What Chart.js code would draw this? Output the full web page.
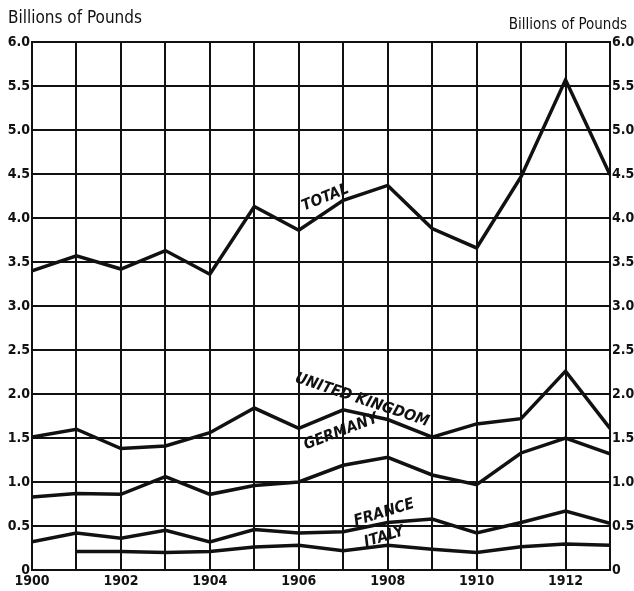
<!DOCTYPE html>
<html>
<head>
<meta charset="utf-8">
<script src="https://cdn.jsdelivr.net/npm/chart.js@4/dist/chart.umd.min.js"></script>
<style>
  html, body { margin: 0; padding: 0; background: #fff; }
  #wrap { width: 634px; height: 591px; position: relative; }
</style>
</head>
<body>
<div id="wrap"><canvas id="tradeChart"></canvas></div>
<script>
// Data (billions of pounds)
const years = [1900, 1901, 1902, 1903, 1904, 1905, 1906, 1907, 1908, 1909, 1910, 1911, 1912, 1913];
const total = [3.40, 3.57, 3.42, 3.63, 3.36, 4.13, 3.86, 4.20, 4.37, 3.88, 3.66, 4.47, 5.57, 4.49];
const unitedKingdom = [1.51, 1.60, 1.38, 1.41, 1.56, 1.84, 1.61, 1.82, 1.71, 1.51, 1.66, 1.72, 2.26, 1.61];
const germany = [0.83, 0.87, 0.86, 1.06, 0.86, 0.96, 1.00, 1.19, 1.28, 1.08, 0.97, 1.33, 1.50, 1.32];
const france = [0.32, 0.42, 0.36, 0.45, 0.32, 0.46, 0.42, 0.435, 0.54, 0.58, 0.42, 0.54, 0.67, 0.53];
const italy = [null, 0.21, 0.21, 0.20, 0.21, 0.26, 0.28, 0.22, 0.28, 0.235, 0.20, 0.265, 0.295, 0.28];
const seriesNames = ['TOTAL', 'UNITED KINGDOM', 'GERMANY', 'FRANCE', 'ITALY'];
const axisTitle = 'Billions of Pounds';

const FONT = "'DejaVu Sans Condensed', 'Liberation Sans Narrow', sans-serif";
const INK = '#111';

function toPoints(values) {
    return years.map((yr, i) => ({ x: yr, y: values[i] }));
}

// where each series name sits (in data units) and its tilt
const labelPlacement = [
    { year: 1906.6, value: 4.23, angle: -22 },
    { year: 1907.42, value: 1.93, angle: 18.5 },
    { year: 1906.95, value: 1.57, angle: -21 },
    { year: 1907.92, value: 0.65, angle: -17 },
    { year: 1907.92, value: 0.375, angle: -17 }
];

const seriesLabels = {
    id: 'seriesLabels',
    afterDatasetsDraw(chart) {
        const ctx = chart.ctx;
        const xs = chart.scales.x, ys = chart.scales.y;
        ctx.save();
        ctx.fillStyle = INK;
        ctx.font = 'italic bold 15.5px ' + FONT;
        ctx.textAlign = 'center';
        ctx.textBaseline = 'middle';
        seriesNames.forEach((name, i) => {
            const p = labelPlacement[i];
            ctx.save();
            ctx.translate(xs.getPixelForValue(p.year), ys.getPixelForValue(p.value));
            ctx.rotate(p.angle * Math.PI / 180);
            ctx.fillText(name, 0, 0);
            ctx.restore();
        });
        // axis titles
        ctx.font = '17px ' + FONT;
        ctx.textAlign = 'left';
        ctx.fillText(axisTitle, 8, 19);
        ctx.font = '15px ' + FONT;
        ctx.textAlign = 'right';
        ctx.fillText(axisTitle, 627, 25);
        ctx.restore();
    }
};

const lineStyle = { borderColor: INK, borderWidth: 3.5, pointRadius: 0, tension: 0, fill: false, spanGaps: false };

const tickFont = { family: FONT, size: 14, weight: 'bold' };
const yTickLabel = v => (v === 0 ? '0' : v.toFixed(1));

new Chart(document.getElementById('tradeChart'), {
    type: 'line',
    data: {
        datasets: [
            Object.assign({ label: seriesNames[0], data: toPoints(total) }, lineStyle),
            Object.assign({ label: seriesNames[1], data: toPoints(unitedKingdom) }, lineStyle),
            Object.assign({ label: seriesNames[2], data: toPoints(germany) }, lineStyle),
            Object.assign({ label: seriesNames[3], data: toPoints(france) }, lineStyle),
            Object.assign({ label: seriesNames[4], data: toPoints(italy) }, lineStyle)
        ]
    },
    options: {
        responsive: true,
        maintainAspectRatio: false,
        animation: false,
        layout: { padding: { top: 42, left: 0, right: 0, bottom: 0 } },
        plugins: { legend: { display: false }, tooltip: { enabled: false } },
        scales: {
            x: {
                type: 'linear',
                min: 1900,
                max: 1913,
                afterFit(scale) { scale.height = 21; },
                border: { color: INK, width: 2 },
                grid: { color: INK, lineWidth: 2, drawTicks: false },
                ticks: {
                    stepSize: 1,
                    autoSkip: false,
                    maxRotation: 0,
                    padding: 3,
                    color: INK,
                    font: tickFont,
                    callback: v => (v % 2 === 0 ? String(v) : '')
                }
            },
            y: {
                position: 'left',
                min: 0,
                max: 6,
                afterFit(scale) { scale.width = 32; },
                border: { color: INK, width: 2 },
                grid: { color: INK, lineWidth: 2, drawTicks: false },
                ticks: { stepSize: 0.5, padding: 2, color: INK, font: tickFont, callback: yTickLabel }
            },
            yRight: {
                position: 'right',
                min: 0,
                max: 6,
                afterFit(scale) { scale.width = 24; },
                border: { color: INK, width: 2 },
                grid: { drawOnChartArea: false, drawTicks: false },
                ticks: { stepSize: 0.5, padding: 2, color: INK, font: tickFont, callback: yTickLabel }
            }
        }
    },
    plugins: [seriesLabels]
});
</script>
</body>
</html>
